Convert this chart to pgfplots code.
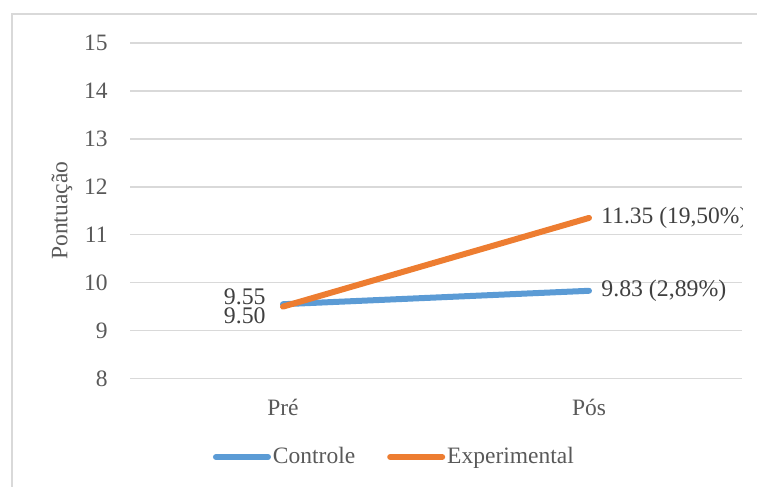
\documentclass[border=0pt]{standalone}
\usepackage{pgfplots}
\pgfplotsset{compat=1.18}
\usepackage{fontspec}
\setmainfont{Liberation Serif}
\definecolor{cblue}{HTML}{5B9BD5}
\definecolor{corange}{HTML}{ED7D31}
\definecolor{cgrid}{HTML}{D9D9D9}
\definecolor{ctick}{HTML}{595959}
\definecolor{clab}{HTML}{404040}
\newcommand\cf{\fontsize{11.75pt}{14pt}\selectfont}
\newcommand\df{\fontsize{11.9pt}{14pt}\selectfont}
\begin{document}
\begin{tikzpicture}
\useasboundingbox (0,0) rectangle (378.5pt,243.5pt);
\draw[cgrid, line width=1pt] (5.75pt,-2pt) -- (5.75pt,236.5pt) -- (382pt,236.5pt);
\begin{axis}[
  at={(65pt,54.25pt)}, anchor=south west,
  scale only axis, width=306pt, height=167.75pt,
  xmin=-0.5, xmax=1.5, ymin=8, ymax=15,
  xtick={0,1}, xticklabels={Pré,Pós},
  ytick={8,9,...,15},
  ymajorgrids, grid style={cgrid, line width=0.75pt},
  axis line style={draw=none}, major tick length=0, tick style={draw=none},
  /pgf/number format/assume math mode=true,
  tick label style={font=\cf, text=ctick},
  yticklabel style={anchor=east, inner sep=0pt, xshift=-11pt},
  xticklabel style={anchor=base, inner sep=0pt, yshift=-18.75pt},
  ylabel={Pontuação},
  ylabel style={at={(axis description cs:-0.1111,0.5)}, anchor=center, font=\cf, text=ctick},
  legend columns=2,
  legend style={at={(axis description cs:0.432,-0.234)}, anchor=center, draw=none, fill=none,
    font=\cf, text=ctick, inner sep=0pt, nodes={inner sep=1pt},
    /tikz/every even column/.append style={column sep=15pt}},
  legend image code/.code={\draw[#1, line width=3pt, line cap=round] (0pt,0pt) -- (26pt,0pt);},
]
\addplot[cblue, line width=3pt, line cap=round, mark=none] coordinates {(0,9.55) (1,9.83)};
\addlegendentry{Controle}
\addplot[corange, line width=3pt, line cap=round, mark=none] coordinates {(0,9.50) (1,11.35)};
\addlegendentry{Experimental}
\node[anchor=east, inner sep=0pt, xshift=-8.5pt, yshift=3.9pt, font=\df, text=clab] at (axis cs:0,9.55) {9.55};
\node[anchor=east, inner sep=0pt, xshift=-8.5pt, yshift=-4.8pt, font=\df, text=clab] at (axis cs:0,9.50) {9.50};
\node[anchor=west, inner sep=0pt, xshift=6pt, font=\cf, text=clab] at (axis cs:1,11.35) {11.35 (19,50\%)};
\node[anchor=west, inner sep=0pt, xshift=6pt, font=\df, text=clab] at (axis cs:1,9.83) {9.83 (2,89\%)};
\end{axis}
\end{tikzpicture}
\end{document}
